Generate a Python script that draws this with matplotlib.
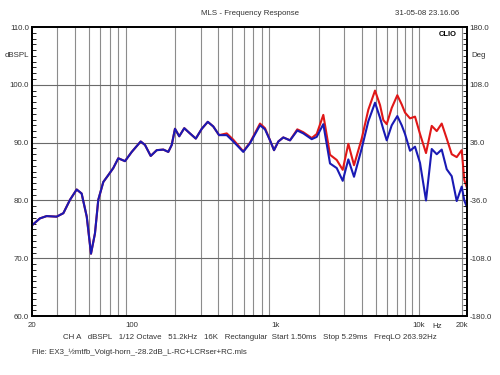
import numpy as np
import matplotlib
matplotlib.use('Agg')
import matplotlib.pyplot as plt
from matplotlib.ticker import FixedLocator, MultipleLocator

# Data
freq = [20, 22.7, 25.3, 29.7, 33.1, 36.8, 41.0, 44.4, 48.2, 51.6, 55.0, 58.0,
        62.9, 68.2, 73.8, 80.0, 89.1, 99.3, 114.7, 122.9, 134.7, 148.4, 165,
        178.7, 188.8, 199, 213, 231, 253, 278, 306, 337, 368, 404, 457, 508,
        596, 664, 780, 845, 916, 977, 1047, 1134, 1263, 1420, 1564, 1790, 1940,
        2157, 2402, 2676, 2946, 3224, 3532, 3998, 4446, 4951, 5365, 5657, 5974,
        6474, 7084, 7604, 8016, 8686, 9413, 10200, 11232, 12313, 13344, 14456,
        15666, 16974, 18394, 19936, 20788, 21700]
spl_blue = [75.7, 76.9, 77.3, 77.2, 77.8, 80.1, 81.9, 81.2, 77.2, 70.8, 74.3, 80.1,
            83.2, 84.4, 85.6, 87.3, 86.8, 88.4, 90.2, 89.6, 87.7, 88.7, 88.8,
            88.4, 89.6, 92.4, 91.1, 92.5, 91.6, 90.7, 92.4, 93.6, 92.8, 91.3, 91.3, 90.2,
            88.4, 89.9, 93.0, 92.3, 90.4, 88.7, 90.2, 90.9, 90.4, 92.1, 91.6, 90.6, 91.0,
            93.2, 86.4, 85.6, 83.4, 87.1, 84.1, 89.0, 93.7, 96.9, 94.3, 92.3, 90.4,
            93.0, 94.6, 93.0, 91.5, 88.6, 89.3, 86.5, 80.0, 88.9, 88.0, 88.8,
            85.4, 84.2, 79.9, 82.4, 80.0, 78.8]
spl_red = [75.7, 76.9, 77.3, 77.2, 77.8, 80.1, 81.9, 81.2, 77.2, 70.8, 74.3, 80.1,
           83.2, 84.4, 85.6, 87.3, 86.8, 88.4, 90.2, 89.6, 87.7, 88.7, 88.8,
           88.4, 89.6, 92.4, 91.1, 92.5, 91.6, 90.7, 92.4, 93.6, 92.8, 91.3, 91.6, 90.5,
           88.5, 90.0, 93.3, 92.5, 90.4, 88.7, 90.2, 90.9, 90.4, 92.3, 91.8, 90.8, 91.5,
           94.8, 87.9, 87.0, 85.3, 89.8, 86.1, 90.7, 95.7, 99.0, 96.5, 93.9, 93.2,
           96.0, 98.2, 96.6, 95.2, 94.2, 94.5, 91.5, 88.2, 92.9, 92.0, 93.3,
           90.7, 88.0, 87.5, 88.7, 83.5, 82.2]

yticks_db = [60, 70, 80, 90, 100, 110]
yticks_deg = [-180, -108, -36, 36, 108, 180]
xtick_pos = [20, 100, 1000, 10000, 20000]
xtick_lab = ['20', '100', '1k', '10k', '20k']

TXT = '#333333'
FS = 5.7
plt.rcParams['font.family'] = ['Liberation Sans', 'DejaVu Sans']

fig = plt.figure(figsize=(5, 3.75), dpi=100)
ax = fig.add_axes([0.064, 0.157, 0.87, 0.771])  # left, bottom, width, height

# grid
grid_f = [f * d for d in (10, 100, 1000) for f in range(2, 10)] + [10000, 20000]
grid_f = [g for g in grid_f if g > 20]
for g in grid_f:
    ax.axvline(g, color='#8c8c8c', lw=0.8, zorder=1)
for y in (70, 80, 90, 100):
    ax.axhline(y, color='#6a6a6a', lw=0.8, zorder=1)

ax.plot(freq, spl_red, color='#e01818', lw=1.5, zorder=3)
ax.plot(freq, spl_blue, color='#1a1ab4', lw=1.5, zorder=4)

ax.set_xscale('log')
ax.set_xlim(20, 21700)
ax.set_ylim(60, 110)
ax.xaxis.set_major_locator(FixedLocator(xtick_pos))
ax.xaxis.set_minor_locator(FixedLocator([]))
ax.set_xticklabels(xtick_lab)
ax.set_yticks(yticks_db)
ax.set_yticklabels(['%.1f' % v for v in yticks_db])
ax.yaxis.set_minor_locator(MultipleLocator(1))
ax.tick_params(axis='x', length=0, labelsize=FS, colors=TXT, pad=4)
ax.tick_params(axis='y', which='major', length=0, labelsize=FS, labelcolor=TXT, pad=2)
ax.tick_params(axis='y', which='minor', direction='in', length=3, width=0.6)
for s in ax.spines.values():
    s.set_linewidth(1.3)

ax2 = ax.twinx()
ax2.set_ylim(-180, 180)
ax2.set_yticks(yticks_deg)
ax2.set_yticklabels(['%.1f' % v for v in yticks_deg])
ax2.yaxis.set_minor_locator(MultipleLocator(7.2))
ax2.tick_params(axis='y', which='major', length=0, labelsize=FS, labelcolor=TXT, pad=2)
ax2.tick_params(axis='y', which='minor', direction='in', length=3, width=0.6)
for s in ax2.spines.values():
    s.set_linewidth(1.3)

# annotations
fig.text(0.5, 0.965, 'MLS - Frequency Response', ha='center', va='center', fontsize=FS, color=TXT)
fig.text(0.79, 0.965, '31-05-08 23.16.06', ha='left', va='center', fontsize=FS, color=TXT)
fig.text(0.058, 0.851, 'dBSPL', ha='right', va='center', fontsize=FS, color=TXT)
fig.text(0.942, 0.851, 'Deg', ha='left', va='center', fontsize=FS, color=TXT)
fig.text(0.874, 0.128, 'Hz', ha='center', va='center', fontsize=FS, color=TXT)
ax.text(0.955, 0.985, 'CLIO', transform=ax.transAxes, ha='center', va='top',
        fontsize=5.5, weight='bold', color='black')
fig.text(0.126, 0.099, 'CH A   dBSPL   1/12 Octave   51.2kHz   16K   Rectangular  '
         'Start 1.50ms   Stop 5.29ms   FreqLO 263.92Hz', ha='left', va='center',
         fontsize=FS, color=TXT)
fig.text(0.064, 0.061, 'File: EX3_\u00bdmtfb_Voigt-horn_-28.2dB_L-RC+LCRser+RC.mls',
         ha='left', va='center', fontsize=FS, color=TXT)

fig.savefig('out.png', dpi=100)
